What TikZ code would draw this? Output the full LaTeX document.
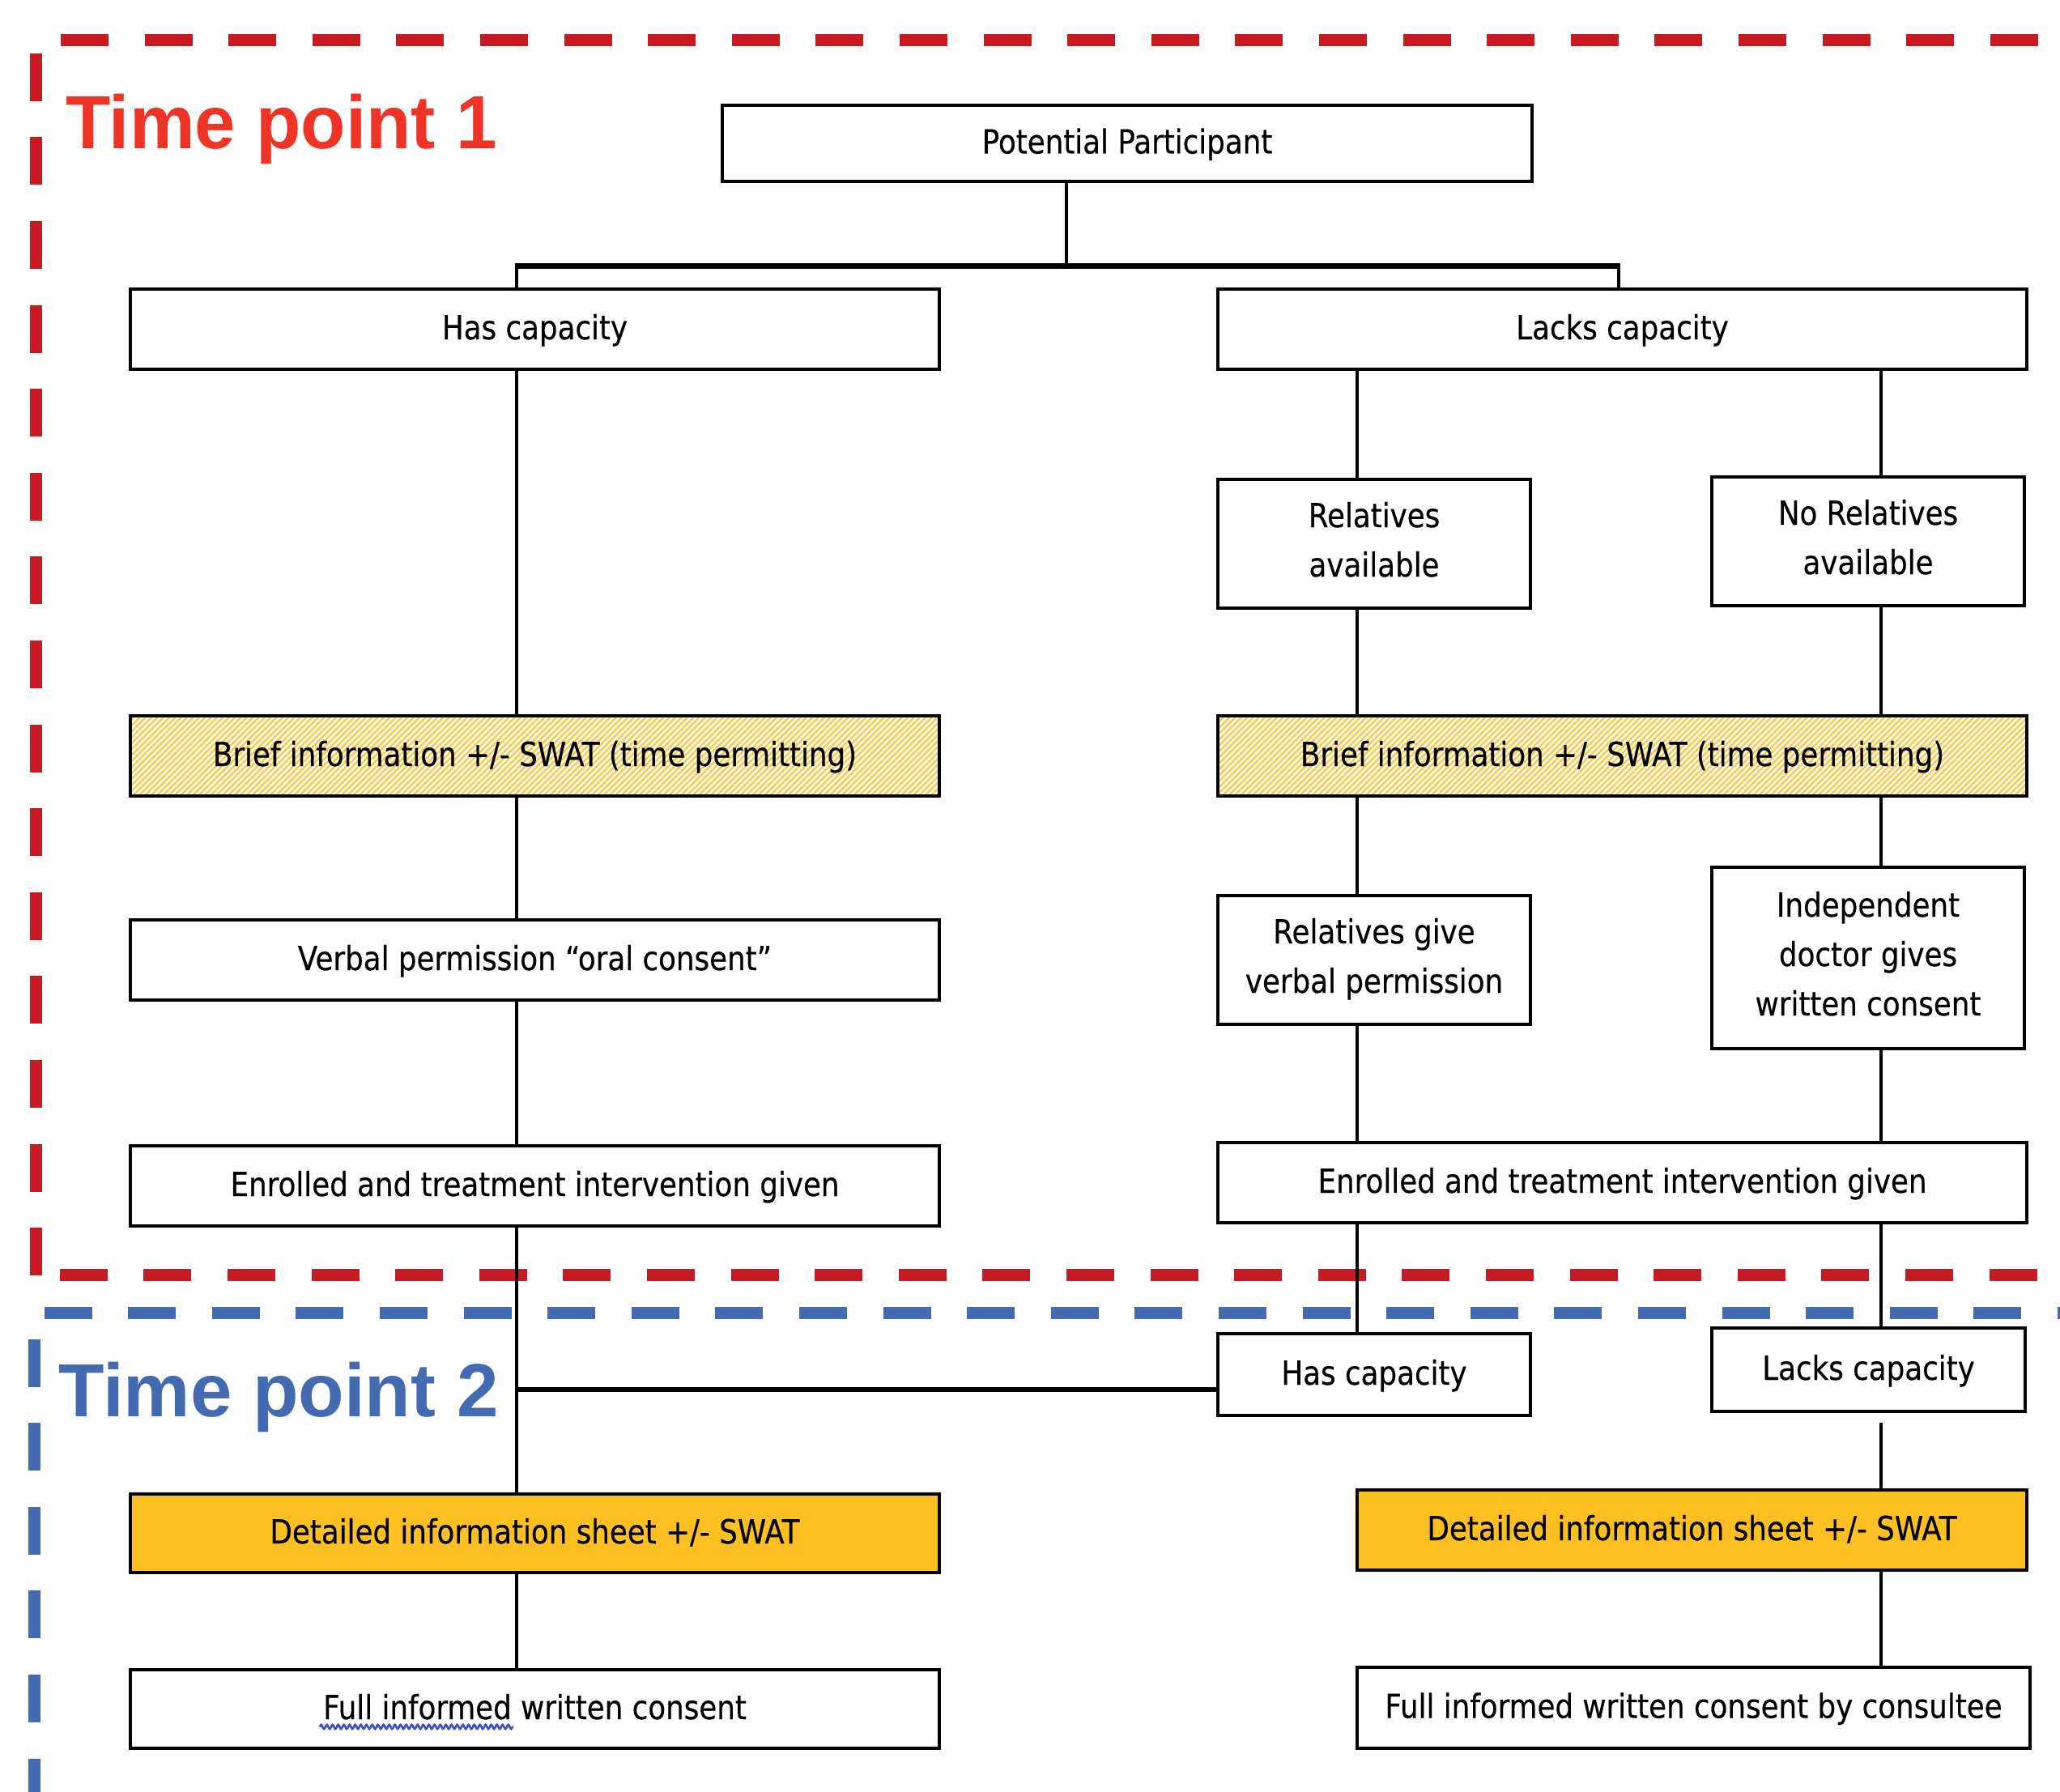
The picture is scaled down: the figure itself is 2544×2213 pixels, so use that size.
\documentclass[tikz,border=0pt]{standalone}
\usepackage{fontspec}
\setmainfont{DejaVu Sans}[FakeStretch=0.87,FakeBold=0.4]
\newfontfamily\tpfonta{Liberation Sans}[FakeStretch=0.975]
\newfontfamily\tpfontb{Liberation Sans}[FakeStretch=0.995]
\usetikzlibrary{patterns.meta,decorations.pathmorphing,calc}
\definecolor{dashred}{RGB}{200,26,34}
\definecolor{tpred}{RGB}{238,52,38}
\definecolor{dashblue}{RGB}{68,106,178}
\definecolor{tpblue}{RGB}{68,106,178}
\definecolor{gold}{RGB}{252,192,34}
\definecolor{hatchy}{RGB}{248,204,80}
\definecolor{squig}{RGB}{60,82,190}
\begin{document}
\begin{tikzpicture}[x=1pt,y=-1pt,
  box/.style={draw=black,line width=4pt,fill=white,outer sep=0pt,inner sep=2pt,
    font=\fontsize{41}{61}\selectfont,align=center,text depth=11pt},
  box1/.style={box,text height=30pt,text depth=5pt},
  sz/.style 2 args={minimum width=#1pt,minimum height=#2pt},
  hatchbox/.style={box1,fill=none,pattern={Lines[angle=45,distance=5.2pt,line width=2.6pt]},pattern color=hatchy},
  goldbox/.style={box1,fill=gold},
  conn/.style={line width=4pt,black},
  thickconn/.style={line width=7pt,black,shorten <=-2pt,shorten >=-2pt},
  reddash/.style={dashred,line width=15pt,dash pattern=on 59pt off 44.6pt},
  bluedash/.style={dashblue,line width=15pt,dash pattern=on 59pt off 44.6pt},
  tplabel/.style={anchor=base west,inner sep=0pt}
]
\useasboundingbox (0,0) rectangle (2544,2213);
\clip (0,0) rectangle (2544,2213);

% time point frames
\draw[reddash] (75,50) -- (2520,50);
\draw[reddash] (44,65.7) -- (44,1582);
\draw[reddash] (73.7,1574.5) -- (2520,1574.5);
\draw[bluedash] (54.5,1621) -- (2600,1621);
\draw[bluedash] (42,1653.6) -- (42,2260);
\draw[bluedash] (2551,1611) -- (2551,2260);

\node[tplabel,text=tpred,font=\tpfonta\bfseries\fontsize{93}{100}\selectfont] (tp1) at (81,183) {Time point 1};
\node[tplabel,text=tpblue,font=\tpfontb\bfseries\fontsize{93}{100}\selectfont] (tp2) at (72,1749) {Time point 2};

% boxes
\node[box1,sz={1000}{94}] (pp) at (1392,177) {Potential Participant};
\node[box1,sz={999}{99}] (hc1) at (660.5,406.5) {Has capacity};
\node[box1,sz={999}{99}] (lc1) at (2003.5,406.5) {Lacks capacity};
\node[box,sz={386}{159}] (ra) at (1697,671.5) {Relatives\\available};
\node[box,sz={386}{159}] (nr) at (2307,668.5) {No Relatives\\available};
\node[hatchbox,sz={999}{99}] (bl) at (660.5,933.5) {Brief information +/- SWAT (time permitting)};
\node[hatchbox,sz={999}{99}] (br) at (2003.5,933.5) {Brief information +/- SWAT (time permitting)};
\node[box1,sz={999}{99}] (vp) at (660.5,1185.5) {Verbal permission “oral consent”};
\node[box,sz={386}{159}] (rg) at (1697,1185.5) {Relatives give\\verbal permission};
\node[box,sz={386}{224}] (idg) at (2307,1183) {Independent\\doctor gives\\written consent};
\node[box1,sz={999}{99}] (el) at (660.5,1464.5) {Enrolled and treatment intervention given};
\node[box1,sz={999}{99}] (er) at (2003.5,1460.5) {Enrolled and treatment intervention given};
\node[box1,sz={386}{101}] (hc2) at (1697,1697.5) {Has capacity};
\node[box1,sz={387}{103}] (lc2) at (2307.5,1691.5) {Lacks capacity};
\node[goldbox,sz={999}{97}] (dl) at (660.5,1893.5) {Detailed information sheet +/- SWAT};
\node[goldbox,sz={827}{99}] (dr) at (2089.5,1889.5) {Detailed information sheet +/- SWAT};
\node[box1,sz={999}{97}] (fl) at (660.5,2110.5) {Full informed written consent};
\node[box1,sz={831}{100}] (fr) at (2091.5,2109) {Full informed written consent by consultee};

% spell-check squiggle
\draw[squig,line width=2.6pt,decorate,decoration={snake,amplitude=2.6pt,segment length=7pt}]
  ($(fl.center)+(-266,22)$) -- ($(fl.center)+(-27,22)$);

% connector columns
\coordinate (xpp) at (1317,0);
\coordinate (xl) at (638,0);
\coordinate (xt) at (1999,0);
\coordinate (xa) at (1676,0);
\coordinate (xb) at (2323,0);
\coordinate (yt) at (0,328);
\coordinate (yh) at (0,1716);

\draw[conn] (pp.south -| xpp) -- (xpp |- yt);
\draw[conn] (hc1.north -| xl) -- (xl |- yt);
\draw[conn] (lc1.north -| xt) -- (xt |- yt);
\draw[thickconn] (xl |- yt) -- (xt |- yt);

\draw[conn] (hc1.south -| xl) -- (bl.north -| xl);
\draw[conn] (bl.south -| xl) -- (vp.north -| xl);
\draw[conn] (vp.south -| xl) -- (el.north -| xl);
\draw[conn] (el.south -| xl) -- (dl.north -| xl);
\draw[line width=5.5pt] (xl |- yh) -- (hc2.west |- yh);
\draw[conn] (dl.south -| xl) -- (fl.north -| xl);

\draw[conn] (lc1.south -| xa) -- (ra.north -| xa);
\draw[conn] (lc1.south -| xb) -- (nr.north -| xb);
\draw[conn] (ra.south -| xa) -- (br.north -| xa);
\draw[conn] (nr.south -| xb) -- (br.north -| xb);
\draw[conn] (br.south -| xa) -- (rg.north -| xa);
\draw[conn] (br.south -| xb) -- (idg.north -| xb);
\draw[conn] (rg.south -| xa) -- (er.north -| xa);
\draw[conn] (idg.south -| xb) -- (er.north -| xb);
\draw[conn] (er.south -| xa) -- (hc2.north -| xa);
\draw[conn] (er.south -| xb) -- (lc2.north -| xb);
\draw[conn] ($(lc2.south -| xb)+(0,14)$) -- (dr.north -| xb);
\draw[conn] (dr.south -| xb) -- (fr.north -| xb);
\end{tikzpicture}
\end{document}
